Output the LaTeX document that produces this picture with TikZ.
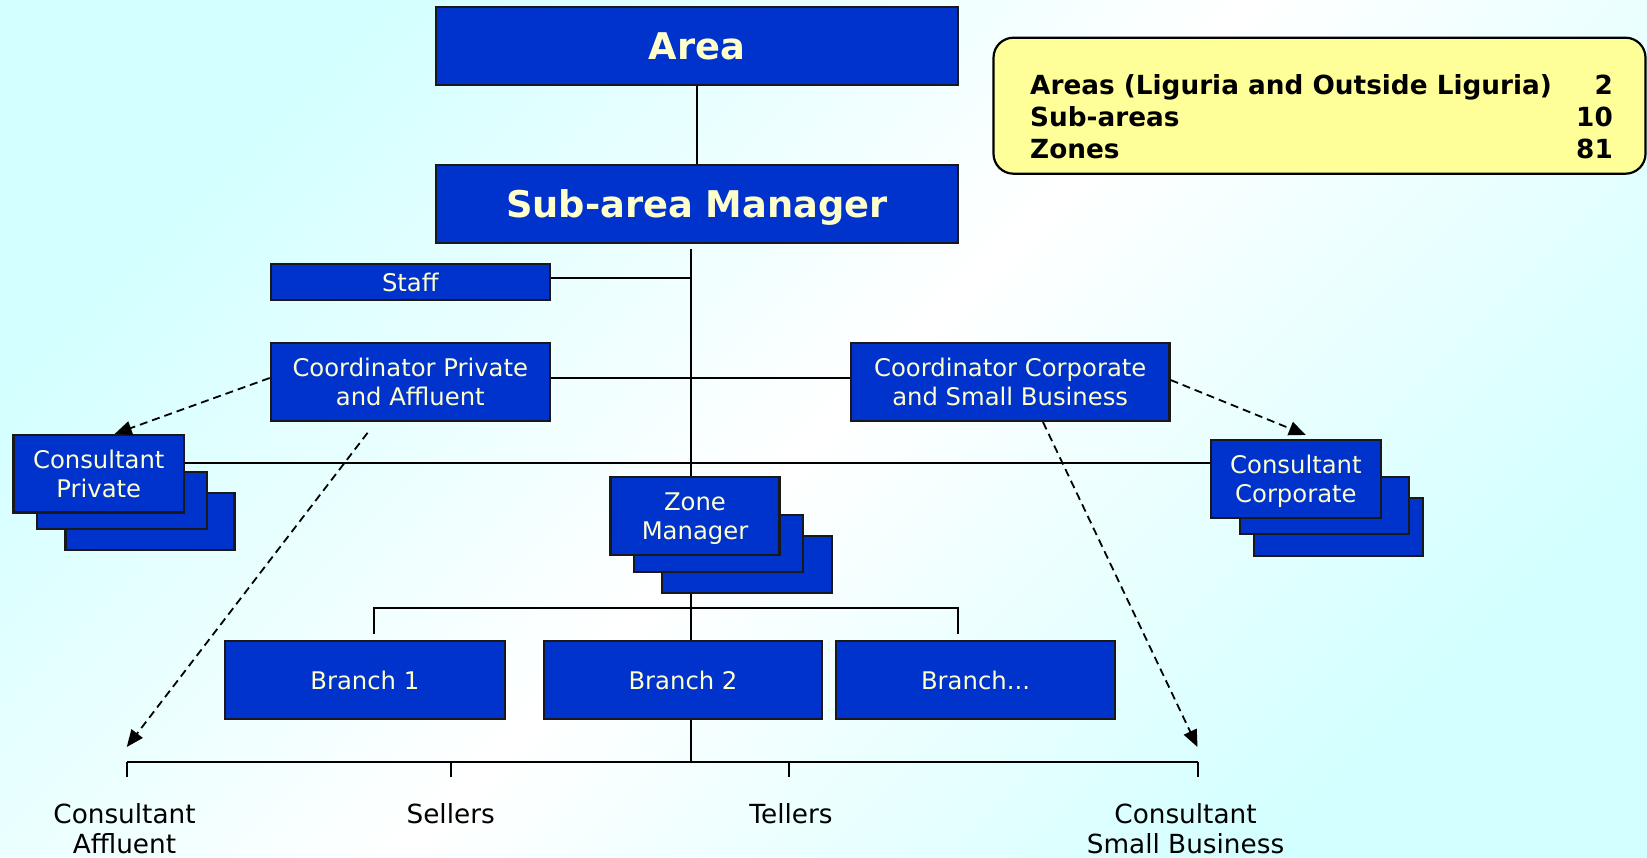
\documentclass[tikz,border=0pt]{standalone}
\usepackage{fontspec}
\setmainfont{DejaVu Sans}
\usetikzlibrary{arrows.meta}
\definecolor{boxblue}{RGB}{0,51,204}
\definecolor{cream}{RGB}{255,255,204}
\definecolor{noteyellow}{RGB}{255,255,153}
\definecolor{bgcyan}{RGB}{210,255,255}
\definecolor{edgegray}{RGB}{25,25,25}
\tikzset{
  bx/.style={draw=edgegray, line width=2.2pt, fill=boxblue, text=cream, align=center,
    inner sep=0pt, text depth=0pt, font=\fontsize{24.3}{28.5}\selectfont},
  ttl/.style={bx, font=\bfseries\fontsize{36.8}{40}\selectfont, minimum width=522pt, minimum height=78pt},
  conn/.style={draw=black, line width=2pt},
  dasharrow/.style={draw=black, line width=1.8pt, dash pattern=on 8pt off 5pt,
    -{Triangle[length=17pt,width=14pt]}},
  lab/.style={font=\fontsize{26.3}{30}\selectfont, align=center, inner sep=0pt, text=black},
  notetxt/.style={font=\bfseries\fontsize{26.3}{32}\selectfont, inner sep=0pt, text=black},
}
\begin{document}
\begin{tikzpicture}[x=1pt,y=-1pt]
\useasboundingbox (0,0) rectangle (1647,858);
\shade[top color=bgcyan, bottom color=bgcyan, middle color=white, shading angle=45]
  (0,0) rectangle (1647,858);

% info box
\node[draw=black, line width=2.2pt, fill=noteyellow, rounded corners=20pt,
  minimum width=652pt, minimum height=136pt, inner sep=0pt] (info) at (1319.5,105.7) {};
\node[notetxt, anchor=base west] (i1) at (1030,95) {Areas (Liguria and Outside Liguria)};
\node[notetxt, anchor=base west] (i2) at (1030,127) {Sub-areas};
\node[notetxt, anchor=base west] (i3) at (1030,159) {Zones};
\node[notetxt, anchor=base east] (n1) at (1613,95) {2};
\node[notetxt, anchor=base east] (n2) at (1613,127) {10};
\node[notetxt, anchor=base east] (n3) at (1613,159) {81};

% main boxes
\node[ttl] (area) at (697,46.2) {Area};
\node[ttl] (sub) at (697,204) {Sub-area Manager};
\node[bx, minimum width=279pt, minimum height=36pt] (staff) at (410.3,282) {Staff};
\node[bx, minimum width=279pt, minimum height=78pt] (coordP) at (410.3,382) {Coordinator Private\\and Affluent};
\node[bx, minimum width=318.5pt, minimum height=78pt] (coordC) at (1010.2,382) {Coordinator Corporate\\and Small Business};

% stacked consultant private
\node[bx, minimum width=169pt, minimum height=57pt] (consP3) at (150,521.5) {};
\node[bx, minimum width=170pt, minimum height=57pt] (consP2) at (122,500.5) {};
\node[bx, minimum width=170.5pt, minimum height=77.5pt] (consP) at (98.75,473.7) {Consultant\\Private};

% stacked consultant corporate
\node[bx, minimum width=169.4pt, minimum height=57.7pt] (consC3) at (1338.3,526.9) {};
\node[bx, minimum width=169.4pt, minimum height=57pt] (consC2) at (1324.3,505.5) {};
\node[bx, minimum width=169.7pt, minimum height=77.7pt] (consC) at (1295.9,478.9) {Consultant\\Corporate};

% stacked zone manager
\node[bx, minimum width=169.6pt, minimum height=57pt] (zone3) at (746.8,564.5) {};
\node[bx, minimum width=169pt, minimum height=57pt] (zone2) at (718.5,543.5) {};
\node[bx, minimum width=169pt, minimum height=78pt] (zone) at (695,516) {Zone\\Manager};

% branches
\node[bx, minimum width=279.6pt, minimum height=78pt] (b1) at (364.8,680) {Branch 1};
\node[bx, minimum width=278pt, minimum height=78pt] (b2) at (683,680) {Branch 2};
\node[bx, minimum width=279pt, minimum height=78pt] (b3) at (975.5,680) {Branch...};

% connectors
\coordinate (vtop) at (690.5,249);
\coordinate (hl) at (0,463);
\coordinate (bbl) at (373.5,608);
\coordinate (bbr) at (958,608);
\coordinate (L1) at (126.8,762);
\coordinate (L2) at (450.7,762);
\coordinate (L3) at (788.7,762);
\coordinate (L4) at (1197.5,762);

\draw[conn] (area.south) -- (sub.north);
\draw[conn] (vtop) -- (vtop |- zone.north);
\draw[conn] ([yshift=3.5pt]staff.east) -- ([yshift=3.5pt]staff.east -| vtop);
\draw[conn] ([yshift=4pt]coordP.east) -- ([yshift=4pt]coordC.west);
\draw[conn] (hl -| consP.east) -- (hl -| consC.west);
\draw[conn] (vtop |- zone3.south) -- (vtop |- b2.north);
\draw[conn] ([yshift=-26pt]bbl) -- (bbl) -- (bbr) -- ([yshift=-26pt]bbr);
\draw[conn] (vtop |- b2.south) -- (vtop |- L1);
\draw[conn] (L1) -- (L4);
\draw[conn] (L1) -- ([yshift=-15pt]L1);
\draw[conn] (L2) -- ([yshift=-15pt]L2);
\draw[conn] (L3) -- ([yshift=-15pt]L3);
\draw[conn] (L4) -- ([yshift=-15pt]L4);

% dashed arrows
\draw[dasharrow] ([yshift=4pt]coordP.west) -- ([xshift=16pt]consP.north);
\draw[dasharrow] ([yshift=2pt]coordC.east) -- ([shift={(10,-4)}]consC.north);
\draw[dasharrow] ([shift={(-42.7,10.7)}]coordP.south) -- ([yshift=15pt]L1);
\draw[dasharrow] ([xshift=32.8pt]coordC.south) -- ([yshift=15pt]L4);

% labels
\node[lab, anchor=base] (lab1) at (124.5,853) {Consultant\\Affluent};
\node[lab, anchor=base] (lab2) at (450.7,823) {Sellers};
\node[lab, anchor=base] (lab3) at (791,823) {Tellers};
\node[lab, anchor=base] (lab4) at (1185.5,853) {Consultant\\Small Business};
\end{tikzpicture}
\end{document}
